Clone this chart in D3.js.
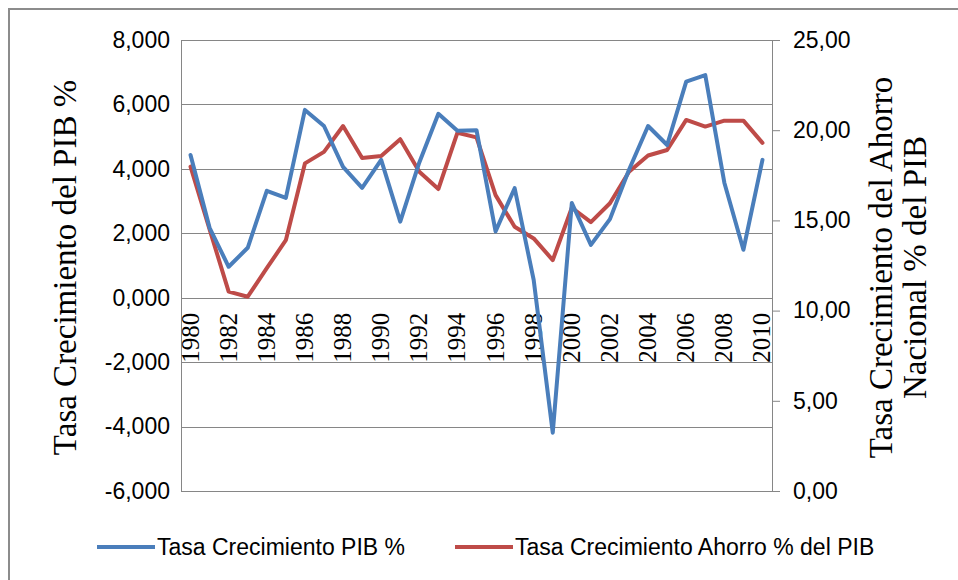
<!DOCTYPE html>
<meta charset="utf-8">
<style>
  body { margin: 0; background: #fff; }
  svg { display: block; }
</style>
<body>
<script src="https://d3js.org/d3.v7.min.js"></script>
<script>

// datos
var years = d3.range(1980, 2011);
var pib = [4.43, 2.17, 0.96, 1.55, 3.32, 3.10, 5.83, 5.33, 4.06, 3.41,
           4.28, 2.36, 4.20, 5.71, 5.18, 5.20, 2.06, 3.40, 0.55, -4.19,
           2.94, 1.64, 2.44, 3.97, 5.33, 4.74, 6.71, 6.91, 3.57, 1.49, 4.28];
var ahorro = [17.98, 14.50, 11.05, 10.77, 12.35, 13.90, 18.16, 18.80, 20.23, 18.46,
              18.57, 19.50, 17.70, 16.74, 19.86, 19.60, 16.40, 14.65, 14.00, 12.80,
              15.70, 14.90, 15.95, 17.70, 18.60, 18.90, 20.57, 20.20, 20.53, 20.53, 19.30];
var leftTicks = [-6, -4, -2, 0, 2, 4, 6, 8];
var rightTicks = [0, 5, 10, 15, 20, 25];
var yearLabels = years.filter(function(d) { return d % 2 === 0; });

var width = 958,
    height = 580;

var margin = {top: 40, right: 186, bottom: 89, left: 181};
var plotW = width - margin.left - margin.right,
    plotH = height - margin.top - margin.bottom;

var blue = "#4a7ebb",
    red = "#be4b48",
    gridColor = "#868686";

var svg = d3.select("body").append("svg")
    .attr("width", width)
    .attr("height", height);

// marco del grafico
svg.append("path")
    .attr("d", "M9," + height + "V9H" + width)
    .attr("fill", "none")
    .attr("stroke", "#8c8c8c")
    .attr("stroke-width", 2);

var g = svg.append("g")
    .attr("transform", "translate(" + margin.left + "," + margin.top + ")");

var x = d3.scaleBand()
    .domain(years)
    .range([0, plotW]);

var yL = d3.scaleLinear()
    .domain([-6, 8])
    .range([plotH, 0]);

var yR = d3.scaleLinear()
    .domain([0, 25])
    .range([plotH, 0]);

function cx(d) { return x(d) + x.bandwidth() / 2; }

// formato con coma decimal y guion normal
function fmt(p) {
  var f = d3.format("." + p + "f");
  return function(d) { return f(d).replace("\u2212", "-").replace(".", ","); };
}

// lineas de cuadricula
g.append("g")
  .selectAll("line")
  .data(leftTicks)
  .enter().append("line")
    .attr("x1", 0)
    .attr("x2", plotW)
    .attr("y1", function(d) { return Math.round(yL(d)) + 0.5; })
    .attr("y2", function(d) { return Math.round(yL(d)) + 0.5; })
    .attr("stroke", gridColor)
    .attr("stroke-width", 1);

// eje izquierdo
var axisL = g.append("g")
    .call(d3.axisLeft(yL).tickValues(leftTicks).tickSize(0).tickPadding(11)
      .tickFormat(fmt(3)));
axisL.select(".domain").attr("stroke", gridColor);
axisL.selectAll("text")
    .attr("font-family", "'Liberation Sans', Arial, sans-serif")
    .attr("font-size", 23)
    .attr("fill", "#000");

// eje derecho
var axisR = g.append("g")
    .attr("transform", "translate(" + plotW + ",0)")
    .call(d3.axisRight(yR).tickValues(rightTicks).tickSize(8).tickPadding(13)
      .tickFormat(fmt(2)));
axisR.select(".domain").attr("stroke", gridColor);
axisR.selectAll("line").attr("stroke", gridColor);
axisR.selectAll("text")
    .attr("font-family", "'Liberation Sans', Arial, sans-serif")
    .attr("font-size", 23)
    .attr("fill", "#000");

// etiquetas de anios (verticales)
g.append("g")
  .selectAll("text")
  .data(yearLabels)
  .enter().append("text")
    .attr("transform", function(d) { return "translate(" + (cx(d) + 8) + "," + (yL(0) + 15) + ") rotate(-90)"; })
    .attr("text-anchor", "end")
    .attr("font-family", "'Liberation Serif', 'Times New Roman', serif")
    .attr("font-size", 25)
    .attr("fill", "#000")
    .text(function(d) { return d; });

// series
var lineL = d3.line()
    .x(function(d, i) { return cx(years[i]); })
    .y(function(d) { return yL(d); });

var lineR = d3.line()
    .x(function(d, i) { return cx(years[i]); })
    .y(function(d) { return yR(d); });

g.append("path")
    .datum(ahorro)
    .attr("d", lineR)
    .attr("fill", "none")
    .attr("stroke", red)
    .attr("stroke-width", 4)
    .attr("stroke-linejoin", "round")
    .attr("stroke-linecap", "round");

g.append("path")
    .datum(pib)
    .attr("d", lineL)
    .attr("fill", "none")
    .attr("stroke", blue)
    .attr("stroke-width", 4)
    .attr("stroke-linejoin", "round")
    .attr("stroke-linecap", "round");

// titulos de los ejes
svg.append("text")
    .attr("transform", "translate(76," + (margin.top + plotH / 2 + 2) + ") rotate(-90)")
    .attr("text-anchor", "middle")
    .attr("font-family", "'Liberation Serif', 'Times New Roman', serif")
    .attr("font-size", 33)
    .attr("fill", "#000")
    .text("Tasa Crecimiento del PIB %");

var rt = svg.append("text")
    .attr("transform", "translate(892," + (margin.top + plotH / 2 + 2) + ") rotate(-90)")
    .attr("text-anchor", "middle")
    .attr("font-family", "'Liberation Serif', 'Times New Roman', serif")
    .attr("font-size", 33)
    .attr("fill", "#000");
rt.append("tspan").attr("x", 0).attr("dy", 0).text("Tasa Crecimiento del Ahorro");
rt.append("tspan").attr("x", 0).attr("dy", 34).text("Nacional % del PIB");

// leyenda
var legend = [
  {name: "Tasa Crecimiento PIB %", color: blue, x: 97},
  {name: "Tasa Crecimiento Ahorro % del PIB", color: red, x: 455}
];

var lg = svg.append("g")
  .selectAll("g")
  .data(legend)
  .enter().append("g")
    .attr("transform", function(d) { return "translate(" + d.x + ",547)"; });

lg.append("line")
    .attr("x1", 0)
    .attr("x2", 58)
    .attr("stroke", function(d) { return d.color; })
    .attr("stroke-width", 4);

lg.append("text")
    .attr("x", 60)
    .attr("y", 8)
    .attr("font-family", "'Liberation Sans', Arial, sans-serif")
    .attr("font-size", 23)
    .attr("fill", "#000")
    .text(function(d) { return d.name; });

</script>
</body>
